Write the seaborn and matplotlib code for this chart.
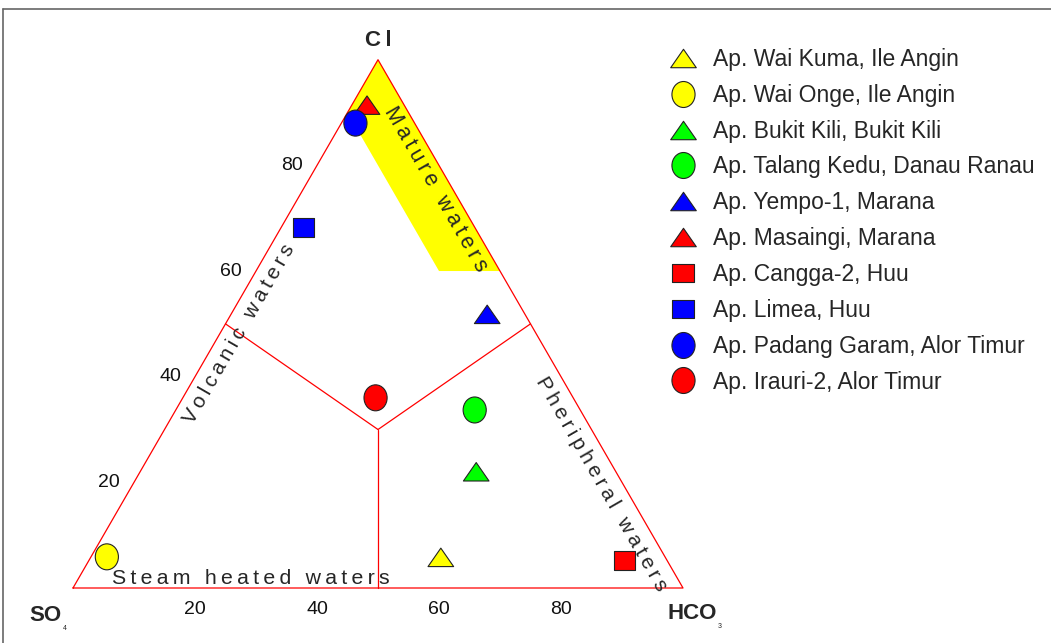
import numpy as np
import pandas as pd
import matplotlib.pyplot as plt
from matplotlib.path import Path
from matplotlib.lines import Line2D
import seaborn as sns

# Sample sites (legend order) and their relative compositions (%)
sites = [
    "Ap. Wai Kuma, Ile Angin",
    "Ap. Wai Onge, Ile Angin",
    "Ap. Bukit Kili, Bukit Kili",
    "Ap. Talang Kedu, Danau Ranau",
    "Ap. Yempo-1, Marana",
    "Ap. Masaingi, Marana",
    "Ap. Cangga-2, Huu",
    "Ap. Limea, Huu",
    "Ap. Padang Garam, Alor Timur",
    "Ap. Irauri-2, Alor Timur",
]
cl = [5.8, 5.9, 22.0, 33.7, 51.8, 91.4, 5.2, 68.3, 88.0, 36.0]
hco3 = [57.4, 2.6, 55.1, 49.0, 42.0, 2.5, 87.8, 3.6, 2.3, 31.6]
colors = ["#ffff00", "#ffff00", "#00ff00", "#00ff00", "#0000ff",
          "#ff0000", "#ff0000", "#0000ff", "#0000ff", "#ff0000"]
shapes = ["tri", "ell", "tri", "ell", "tri", "tri", "sq", "sq", "ell", "ell"]

tick_values = [20, 40, 60, 80]

# Field boundaries (Cl, HCO3)
center = (30, 35)
mature_zone = [(100, 0), (90, 0), (60, 30), (60, 40)]

R3 = np.sqrt(3) / 2


def to_xy(c, h):
    c = np.asarray(c, dtype=float)
    h = np.asarray(h, dtype=float)
    return h + c / 2, c * R3


def spaced(t, gap="\u2009"):
    return gap.join(t)


# marker shapes
tri = Path([(0, 0.72), (-1, -0.72), (1, -0.72), (0, 0.72)],
           [Path.MOVETO, Path.LINETO, Path.LINETO, Path.CLOSEPOLY])
circ = Path.unit_circle()
ell = Path(circ.vertices * [0.89, 1.0], circ.codes)
sq = Path([(-1, -0.9), (1, -0.9), (1, 0.9), (-1, 0.9), (-1, -0.9)],
          [Path.MOVETO, Path.LINETO, Path.LINETO, Path.LINETO, Path.CLOSEPOLY])
shape_path = {"tri": tri, "ell": ell, "sq": sq}
shape_size = {"tri": 340, "ell": 350, "sq": 230}

x, y = to_xy(cl, hco3)
df = pd.DataFrame({"site": sites, "x": x, "y": y})

sns.set_theme(style="white")
plt.rcParams["font.family"] = ["Liberation Sans", "DejaVu Sans"]

fig = plt.figure(figsize=(10.51, 6.43), dpi=100)
ax = fig.add_axes([0, 0, 1, 1])
ax.set_xlim(-73 / 6.1, (1051 - 73) / 6.1)
ax.set_ylim((588 - 643) / 6.1, 588 / 6.1)
ax.set_axis_off()

# mature waters band
mx, my = to_xy([p[0] for p in mature_zone], [p[1] for p in mature_zone])
ax.fill(mx, my, color="#ffff00", lw=0, zorder=1)

# triangle outline and field boundaries
red = "#ff0000"
tx, ty = to_xy([0, 0, 100, 0], [0, 100, 0, 0])
ax.plot(tx, ty, color=red, lw=0.9, zorder=2)
cx, cy = to_xy(center[0], center[1])
for c, h in [(50, 0), (50, 50), (0, 50)]:
    ex, ey = to_xy(c, h)
    ax.plot([cx, ex], [cy, ey], color=red, lw=0.9, zorder=2)

sns.scatterplot(
    data=df, x="x", y="y",
    hue="site", style="site", size="site",
    palette=dict(zip(sites, colors)),
    markers={s: shape_path[k] for s, k in zip(sites, shapes)},
    sizes={s: shape_size[k] for s, k in zip(sites, shapes)},
    edgecolor="#222222", linewidth=0.8,
    ax=ax, zorder=5,
)
sns.move_legend(
    ax, "upper left", bbox_to_anchor=(660 / 1051, 1 - 48 / 643),
    title=None, frameon=False, fontsize=16.5, labelspacing=0.56,
    handlelength=2.0, handletextpad=0.3, borderpad=0, borderaxespad=0,
)

# tick labels
for v in tick_values:
    lx, ly = to_xy(v, 0)
    ax.annotate(str(v), (lx, ly), xytext=(-18, 0), textcoords="offset points",
                ha="center", va="center", fontsize=14, color="#111111")
    bx, by = to_xy(0, v)
    ax.annotate(str(v), (bx, by), xytext=(0, -15.5), textcoords="offset points",
                ha="center", va="center", fontsize=14, color="#111111")

# vertex labels
ax.text(50, 89.8, spaced("Cl", "\u2009"), ha="center", va="center",
        fontsize=16, fontweight="bold")
ax.text(-4.6, -4.5, "SO", ha="center", va="center",
        fontsize=16, fontweight="bold")
ax.text(-1.4, -6.6, "4", ha="center", va="center", fontsize=5)
ax.text(101.5, -4.2, "HCO", ha="center", va="center",
        fontsize=16, fontweight="bold")
ax.text(106.0, -6.3, "3", ha="center", va="center", fontsize=5)

# field labels
ax.text(59.5, 65.4, spaced("Mature waters"), rotation=-60,
        ha="center", va="center", fontsize=15.5, rotation_mode="anchor")
ax.text(27.3, 41.6, spaced("Volcanic waters"), rotation=60,
        ha="center", va="center", fontsize=15, rotation_mode="anchor")
ax.text(86.6, 17.0, spaced("Pheripheral waters"), rotation=-60,
        ha="center", va="center", fontsize=15, rotation_mode="anchor")
ax.text(29.2, 1.6, spaced("Steam heated waters"),
        ha="center", va="center", fontsize=15.3)

# partial frame
fig.add_artist(Line2D([3 / 1051, 1], [1 - 9 / 643] * 2,
                      transform=fig.transFigure, color="#666666", lw=1.2))
fig.add_artist(Line2D([3 / 1051] * 2, [0, 1 - 9 / 643],
                      transform=fig.transFigure, color="#666666", lw=1.2))

fig.savefig("out.png", dpi=100)
